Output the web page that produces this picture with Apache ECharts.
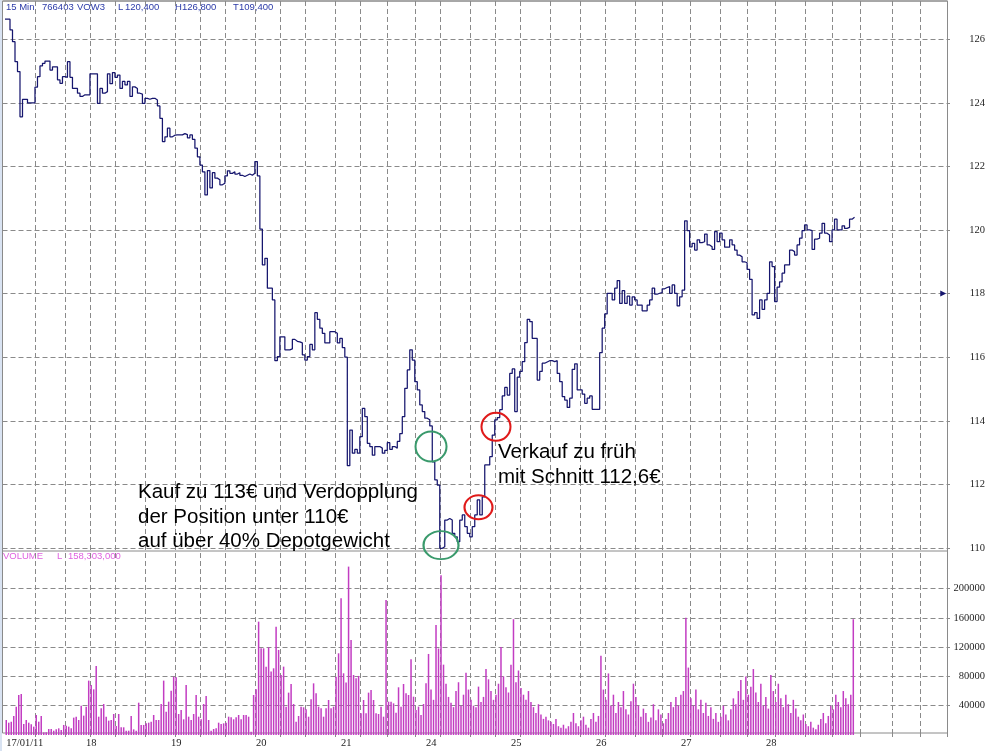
<!DOCTYPE html>
<html>
<head>
<meta charset="utf-8">
<title>VOW3 15 Min</title>
<script src="https://cdn.jsdelivr.net/npm/echarts@6/dist/echarts.min.js"></script>
<style>
  html, body { margin: 0; padding: 0; background: #ffffff; }
  #chart { width: 988px; height: 751px; }
</style>
</head>
<body>
<div id="chart"></div>
<script>
// Trading days shown on the time axis (15-minute bars, 34 per session)
const dayLabels = ['17/01/11', '18', '19', '20', '21', '24', '25', '26', '27', '28'];
const barsPerDay = 34;

// 15-minute closing prices, EUR
const closePrice = [
  // 17/01
  126.63, 126.63, 126.29, 125.92, 125.29, 124.98, 123.56, 124.11, 124.11, 124.00, 124.00, 124.00, 124.49, 124.82, 125.16, 125.24, 125.31,
  125.31, 125.03, 125.13, 125.13, 124.72, 124.61, 124.82, 124.80, 125.29, 124.80, 124.45, 124.45, 124.30, 124.20, 124.25, 124.25, 124.25,
  // 18/01
  124.91, 124.91, 124.91, 123.98, 124.45, 124.30, 124.35, 124.91, 124.60, 124.95, 124.80, 124.87, 124.45, 124.67, 124.56, 124.67, 124.20,
  124.50, 124.45, 124.30, 124.27, 123.98, 124.14, 124.11, 124.14, 124.14, 124.09, 123.90, 123.51, 122.78, 122.93, 123.20, 122.93, 122.98,
  // 19/01
  122.99, 122.99, 122.99, 123.03, 123.00, 122.90, 122.99, 122.85, 122.57, 122.30, 122.04, 121.83, 121.10, 121.87, 121.32, 121.80, 121.63,
  121.58, 121.42, 121.47, 121.70, 121.86, 121.78, 121.83, 121.76, 121.80, 121.72, 121.68, 121.72, 121.76, 121.72, 121.78, 122.15, 121.70,
  // 20/01
  120.03, 118.90, 119.11, 118.17, 118.17, 117.80, 115.89, 116.02, 116.64, 116.64, 116.23, 116.23, 116.26, 116.56, 116.50, 116.48, 116.45,
  116.07, 115.91, 116.02, 116.40, 116.23, 117.40, 117.19, 116.91, 116.75, 116.45, 116.45, 116.80, 116.80, 116.75, 116.45, 116.59, 116.30,
  // 21/01
  116.00, 112.59, 113.71, 112.98, 113.10, 112.98, 113.50, 114.39, 114.13, 113.29, 113.19, 112.92, 113.19, 113.19, 113.14, 112.98, 113.07,
  113.31, 113.10, 113.19, 113.14, 113.35, 113.60, 114.13, 115.02, 115.60, 116.23, 115.91, 115.23, 114.97, 114.50, 114.29, 114.08, 114.03,
  // 24/01
  113.84, 112.71, 112.14, 111.98, 109.99, 110.04, 110.88, 110.93, 110.88, 110.46, 110.35, 110.20, 110.88, 111.04, 110.67, 110.46, 110.35,
  110.67, 111.04, 111.51, 111.04, 111.61, 112.61, 112.61, 112.87, 113.55, 114.03, 114.10, 114.35, 114.78, 115.05, 114.81, 115.49, 115.63,
  // 25/01
  114.29, 115.37, 115.55, 115.86, 116.46, 117.19, 117.12, 116.59, 116.59, 115.28, 115.55, 115.81, 115.85, 115.89, 115.89, 115.86, 115.89,
  115.49, 115.23, 114.76, 114.65, 114.42, 114.71, 115.62, 115.79, 114.97, 114.97, 114.84, 114.55, 114.71, 114.78, 114.36, 114.36, 114.36,
  // 26/01
  116.14, 116.91, 117.36, 118.01, 118.01, 117.80, 118.17, 118.41, 117.69, 118.09, 117.69, 117.92, 117.64, 117.90, 117.80, 117.64, 117.64,
  117.46, 117.46, 117.64, 117.80, 118.17, 117.98, 118.01, 118.03, 118.15, 118.19, 118.22, 118.01, 118.27, 118.01, 117.61, 117.90, 118.11,
  // 27/01
  120.29, 119.98, 119.47, 119.58, 119.37, 119.69, 119.60, 119.63, 119.87, 119.53, 119.47, 119.39, 119.95, 119.63, 119.90, 119.69, 119.46,
  119.46, 119.69, 119.53, 119.37, 119.21, 119.16, 119.00, 118.97, 118.76, 118.45, 117.33, 117.40, 117.22, 117.80, 117.50, 117.80, 118.01,
  // 28/01
  119.00, 118.85, 117.75, 118.20, 118.37, 118.64, 118.90, 118.90, 119.37, 119.32, 119.21, 119.53, 119.74, 119.98, 120.16, 120.00, 119.98,
  119.39, 119.71, 119.74, 119.90, 120.21, 119.90, 119.84, 119.63, 120.00, 120.34, 120.00, 120.00, 120.13, 120.05, 120.08, 120.34, 120.40
];

// 15-minute volume, thousands of shares
const volumeK = [
  // 17/01
  20.5, 16.8, 18.2, 25.9, 38.7, 54.6, 56.0, 15.0, 20.5, 16.8, 14.6, 11.4, 27.3, 18.2, 25.9, 3.6, 3.6,
  8.2, 8.2, 5.9, 7.7, 9.1, 6.8, 13.7, 12.7, 11.4, 9.1, 23.7, 25.0, 20.5, 40.0, 26.4, 38.7, 74.2,
  // 18/01
  68.3, 62.3, 94.2, 25.0, 36.4, 42.3, 25.0, 19.6, 20.5, 28.7, 12.3, 28.7, 10.5, 10.5, 5.9, 5.9, 25.9,
  7.7, 5.9, 44.1, 13.7, 13.7, 15.9, 16.8, 18.2, 27.3, 20.5, 20.5, 42.3, 74.2, 31.9, 45.5, 60.5, 79.6,
  // 19/01
  78.7, 28.7, 34.1, 21.4, 68.3, 25.0, 20.5, 28.7, 54.6, 25.0, 21.4, 42.3, 53.2, 20.5, 5.9, 8.2, 9.1,
  16.8, 15.0, 15.9, 16.8, 25.0, 24.1, 21.4, 24.1, 27.3, 21.4, 27.3, 27.3, 25.0, 4.6, 54.6, 62.3, 154.7,
  // 20/01
  118.3, 118.3, 93.3, 119.7, 86.5, 91.0, 147.9, 116.1, 81.9, 93.3, 38.7, 57.8, 69.6, 42.3, 18.2, 25.9, 38.7,
  37.8, 35.0, 25.0, 48.7, 70.5, 56.9, 38.7, 36.4, 25.0, 36.4, 47.8, 36.4, 38.7, 79.6, 111.5, 186.6, 84.2,
  // 21/01
  71.5, 229.8, 129.7, 81.9, 77.4, 80.6, 29.6, 47.8, 29.6, 57.8, 61.4, 47.8, 29.6, 28.7, 38.7, 25.0, 184.3,
  45.5, 45.5, 43.2, 30.5, 65.1, 38.7, 69.6, 56.9, 54.6, 103.3, 52.3, 34.1, 38.7, 27.3, 42.3, 70.5, 110.6,
  // 24/01
  62, 48, 150, 118, 218, 96, 70, 52, 44, 38, 60, 72, 40, 55, 85, 62, 48,
  40, 38, 66, 45, 52, 90, 76, 60, 48, 55, 70, 120, 80, 65, 58, 96, 158,
  // 25/01
  72, 88, 64, 55, 48, 60, 45, 38, 30, 42, 28, 22, 25, 20, 18, 15, 22,
  12, 10, 14, 9, 12, 18, 30, 16, 12, 20, 25, 14, 10, 22, 30, 18, 26,
  // 26/01
  108, 62, 48, 84, 40, 55, 30, 45, 38, 60, 35, 28, 46, 70, 52, 40, 25,
  36, 30, 18, 24, 42, 20, 35, 28, 16, 22, 30, 45, 38, 52, 40, 55, 60,
  // 27/01
  160, 92, 50, 40, 62, 35, 48, 30, 44, 26, 38, 22, 30, 18, 25, 40, 28,
  20, 35, 50, 42, 60, 75, 48, 80, 55, 66, 90, 58, 45, 70, 40, 52, 36,
  // 28/01
  82, 60, 45, 70, 50, 38, 55, 42, 30, 48, 36, 25, 20, 28, 15, 12, 18,
  10, 8, 14, 22, 30, 16, 26, 40, 35, 55, 45, 38, 60, 50, 42, 55, 158
];

// Right-hand scales: tick start/step and the value at the panel's top edge
const priceTicks = { min: 110, top: 127.2, step: 2 };
const volumeTicks = { min: 0, top: 232000, step: 40000 };

// Time slots where the chart software draws its vertical dashed grid lines
const gridTickSlots = [13, 25, 35, 45, 57, 69, 79, 89, 101, 111, 121, 133, 143, 154, 165, 175, 187, 197,
  207, 219, 231, 241, 253, 264, 275, 287, 298, 309, 321, 332, 343, 356, 367];

// ---- layout ----
const SLOTS = 378;      // category slots across the frame (bars + empty space on the right)
const LEAD = 1;         // empty slot before the first bar
const slotNames = Array.from({ length: SLOTS }, (_, i) => 's' + i);
const toSlots = (arr) => {
  const out = new Array(SLOTS).fill(null);
  arr.forEach((v, i) => { out[LEAD + i] = v; });
  return out;
};
const priceData = toSlots(closePrice);
const volumeData = toSlots(volumeK.map(v => Math.round(v * 1000)));
const gridSet = new Set(gridTickSlots);
const isGridSlot = (idx) => gridSet.has(idx);
const dayIndexOf = (idx) => {
  const k = idx - LEAD;
  if (k < 0 || k % barsPerDay !== 0) return -1;
  const d = k / barsPerDay;
  return d < dayLabels.length ? d : -1;
};
const slotOfBar = (n) => LEAD + n;

const GRID_GRAY = '#8a8a8a';
const dashed = { color: GRID_GRAY, width: 1, type: [5, 3] };
const serifLabel = { fontFamily: '"Liberation Serif", "DejaVu Serif", serif', fontSize: 10.5, color: '#1e1e1e' };
const plain = (v) => String(v);
const L = 2.5, R = 40.5;

const ring = (slot, price, w, h, color) => ({
  coord: [slot, price],
  symbol: 'circle',
  symbolSize: [w, h],
  itemStyle: { color: 'rgba(0,0,0,0)', borderColor: color, borderWidth: 2 },
  label: { show: false }
});
const GREEN = '#3a9a6c', RED = '#e01a1a';

const chart = echarts.init(document.getElementById('chart'), null, { renderer: 'canvas' });

const option = {
  animation: false,
  backgroundColor: '#ffffff',
  grid: [
    // outer frame (vertical grid + time labels)
    { left: L, right: R, top: 1, bottom: 18, show: true, borderColor: GRID_GRAY, borderWidth: 1, backgroundColor: 'rgba(0,0,0,0)' },
    // price panel scale
    { left: L, right: R, top: 1, bottom: 203 },
    // volume panel scale
    { left: L, right: R, top: 565, bottom: 16 },
    // price panel frame (separator above volume)
    { left: L, right: R, top: 1, bottom: 200, show: true, borderColor: GRID_GRAY, borderWidth: 1, backgroundColor: 'rgba(0,0,0,0)' }
  ],
  xAxis: [
    {
      gridIndex: 0, type: 'category', data: slotNames, boundaryGap: true,
      axisLine: { show: false },
      axisTick: { show: true, interval: isGridSlot, length: 4, inside: false, lineStyle: { color: GRID_GRAY } },
      splitLine: { show: true, interval: isGridSlot, lineStyle: dashed },
      axisLabel: {
        show: true, interval: (idx) => dayIndexOf(idx) >= 0,
        formatter: (v, idx) => { const d = dayIndexOf(idx); return d >= 0 ? dayLabels[d] : ''; },
        margin: 5, alignMinLabel: 'left', ...serifLabel
      }
    },
    { gridIndex: 1, type: 'category', data: slotNames, boundaryGap: true, show: false },
    { gridIndex: 2, type: 'category', data: slotNames, boundaryGap: true, show: false },
    { gridIndex: 3, type: 'category', data: slotNames, boundaryGap: true, show: false }
  ],
  yAxis: [
    { gridIndex: 0, type: 'value', show: false, min: 0, max: 1, splitLine: { show: false } },
    {
      gridIndex: 1, type: 'value', position: 'right',
      min: priceTicks.min, max: priceTicks.top, interval: priceTicks.step,
      axisLine: { show: false },
      axisTick: { show: true, length: 3, lineStyle: { color: GRID_GRAY } },
      splitLine: { show: true, showMaxLine: false, lineStyle: dashed },
      axisLabel: { show: true, align: 'right', margin: 38, showMaxLabel: false, formatter: plain, ...serifLabel }
    },
    {
      gridIndex: 2, type: 'value', position: 'right',
      min: volumeTicks.min, max: volumeTicks.top, interval: volumeTicks.step,
      axisLine: { show: false },
      axisTick: { show: true, length: 3, lineStyle: { color: GRID_GRAY } },
      splitLine: { show: true, showMinLine: false, showMaxLine: false, lineStyle: dashed },
      axisLabel: { show: true, align: 'right', margin: 38, showMinLabel: false, showMaxLabel: false, formatter: plain, ...serifLabel }
    },
    { gridIndex: 3, type: 'value', show: false, min: 0, max: 1, splitLine: { show: false } }
  ],
  series: [
    {
      name: 'VOW3', type: 'line', xAxisIndex: 1, yAxisIndex: 1,
      data: priceData, step: 'middle', showSymbol: false, clip: false,
      lineStyle: { color: '#16166e', width: 1.25 },
      markPoint: {
        silent: true,
        data: [
          ring(slotOfBar(170), 113.19, 31, 30, GREEN),
          ring(slotOfBar(174), 110.09, 35, 28, GREEN),
          ring(slotOfBar(196), 113.81, 29, 28, RED),
          ring(slotOfBar(189), 111.28, 28, 24, RED),
          {
            coord: [376, 118], symbol: 'triangle', symbolRotate: -90, symbolSize: [6, 6],
            itemStyle: { color: '#16166e' }, label: { show: false }
          }
        ]
      }
    },
    {
      name: 'VOLUME', type: 'bar', xAxisIndex: 2, yAxisIndex: 2,
      data: volumeData, barWidth: 1.5,
      itemStyle: { color: '#c23cc2' }
    }
  ],
  graphic: [
    // window edge on the left
    { type: 'rect', shape: { x: 0, y: 0, width: 2, height: 751 }, style: { fill: '#d9e3f2' }, silent: true, z: -1 },
    // header of the price panel
    ...[['15 Min', 6], ['766403', 42], ['VOW3', 77], ['L', 118], ['120,400', 125], ['H', 175], ['126,800', 182], ['T', 233], ['109,400', 239]]
      .map(([t, x]) => ({ type: 'text', x, y: 7.5, silent: true,
        style: { text: t, fill: '#2b3aa8', font: '9.5px "Liberation Sans", Arial, sans-serif', verticalAlign: 'middle' } })),
    // header of the volume panel
    ...[['VOLUME', 3], ['L', 57], ['158,303,000', 68]]
      .map(([t, x]) => ({ type: 'text', x, y: 556.5, silent: true,
        style: { text: t, fill: '#e060e0', font: '9.5px "Liberation Sans", Arial, sans-serif', verticalAlign: 'middle' } })),
    // annotations
    ...[['Kauf zu 113€ und Verdopplung', 138, 492], ['der Position unter 110€', 138, 517], ['auf über 40% Depotgewicht', 138, 541],
        ['Verkauf zu früh', 498, 452], ['mit Schnitt 112,6€', 498, 477]]
      .map(([t, x, y]) => ({ type: 'text', x, y, silent: true, z: 100,
        style: { text: t, fill: '#000000', font: '20.5px "Liberation Sans", Arial, sans-serif', verticalAlign: 'middle' } }))
  ]
};

chart.setOption(option);
</script>
</body>
</html>
